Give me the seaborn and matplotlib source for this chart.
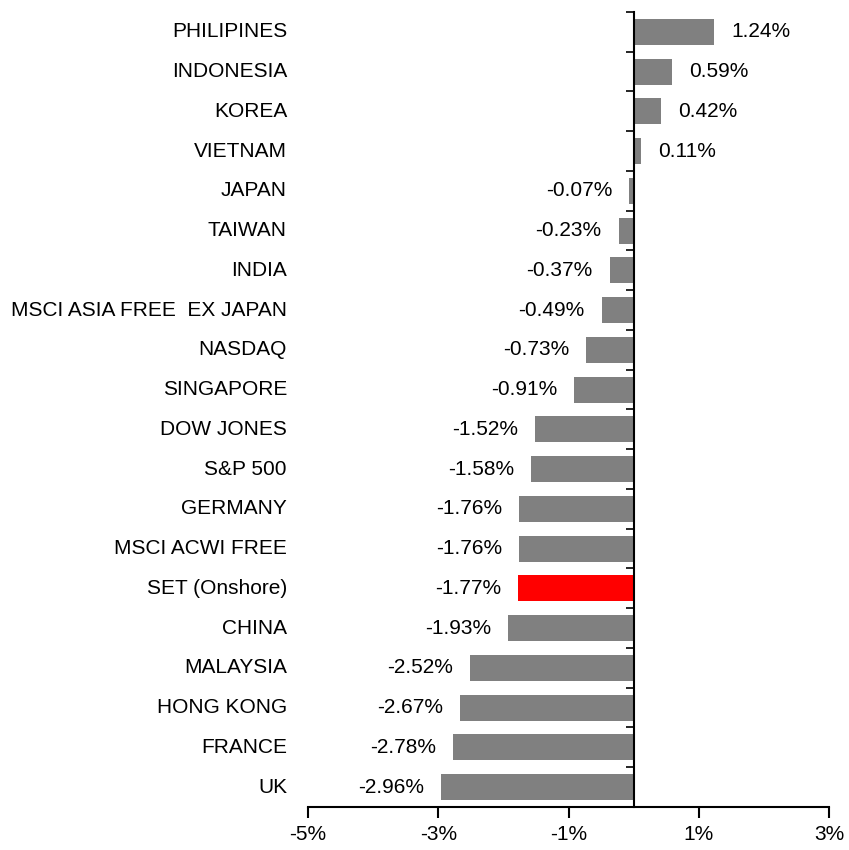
import matplotlib
matplotlib.use("Agg")
import matplotlib.pyplot as plt
import matplotlib.transforms as mtransforms
import seaborn as sns
import pandas as pd

categories = ["PHILIPINES", "INDONESIA", "KOREA", "VIETNAM", "JAPAN", "TAIWAN", "INDIA",
              "MSCI ASIA FREE  EX JAPAN", "NASDAQ", "SINGAPORE", "DOW JONES", "S&P 500",
              "GERMANY", "MSCI ACWI FREE", "SET (Onshore)", "CHINA", "MALAYSIA",
              "HONG KONG", "FRANCE", "UK"]
values = [1.24, 0.59, 0.42, 0.11, -0.07, -0.23, -0.37, -0.49, -0.73, -0.91, -1.52, -1.58,
          -1.76, -1.76, -1.77, -1.93, -2.52, -2.67, -2.78, -2.96]
highlight = "SET (Onshore)"
xticks = [-5, -3, -1, 1, 3]

df = pd.DataFrame({"cat": categories, "val": values})
palette = {c: ("#FF0000" if c == highlight else "#808080") for c in categories}

sns.set_style("white")
plt.rcParams["font.family"] = ["Liberation Sans", "DejaVu Sans"]
plt.rcParams["text.color"] = "black"
FS = 15

fig = plt.figure(figsize=(8.49, 8.5), dpi=100)
ax = fig.add_axes([308/849, 1 - 807/850, (829-308)/849, (807-12)/850])

sns.barplot(data=df, x="val", y="cat", hue="cat", palette=palette, legend=False,
            width=0.65, ax=ax, saturation=1, edgecolor="none")

ax.set_xlim(-5, 3)
ax.set_ylim(len(categories) - 0.5, -0.5)
ax.set_xticks(xticks)
ax.set_xticklabels([f"{t}%" for t in xticks], fontsize=FS, color="black")
ax.set_xlabel("")
ax.set_ylabel("")

for s in ["top", "right"]:
    ax.spines[s].set_visible(False)
ax.spines["left"].set_position(("data", 0))
ax.spines["left"].set_linewidth(1.5)
ax.spines["left"].set_color("black")
ax.spines["bottom"].set_linewidth(1.5)
ax.spines["bottom"].set_color("black")

ax.set_yticks([])
ax.set_yticks([i - 0.5 for i in range(len(categories) + 1)], minor=True)
ax.tick_params(axis="y", which="minor", length=6, width=1.2, direction="out", left=True, color="black")
ax.tick_params(axis="x", which="major", length=8, width=1.5, direction="out", bottom=True,
               color="black", labelcolor="black", pad=5)

trans = mtransforms.blended_transform_factory(ax.transAxes, ax.transData)
for i, c in enumerate(categories):
    ax.text(-21/521, i, c, transform=trans, ha="right", va="center", fontsize=FS, color="black")

for bar_i, v in enumerate(values):
    off = 0.26
    if v >= 0:
        ax.text(v + off, bar_i, f"{v:.2f}%", ha="left", va="center", fontsize=FS, color="black")
    else:
        ax.text(v - off, bar_i, f"{v:.2f}%", ha="right", va="center", fontsize=FS, color="black")

fig.savefig("out.png", dpi=100)
